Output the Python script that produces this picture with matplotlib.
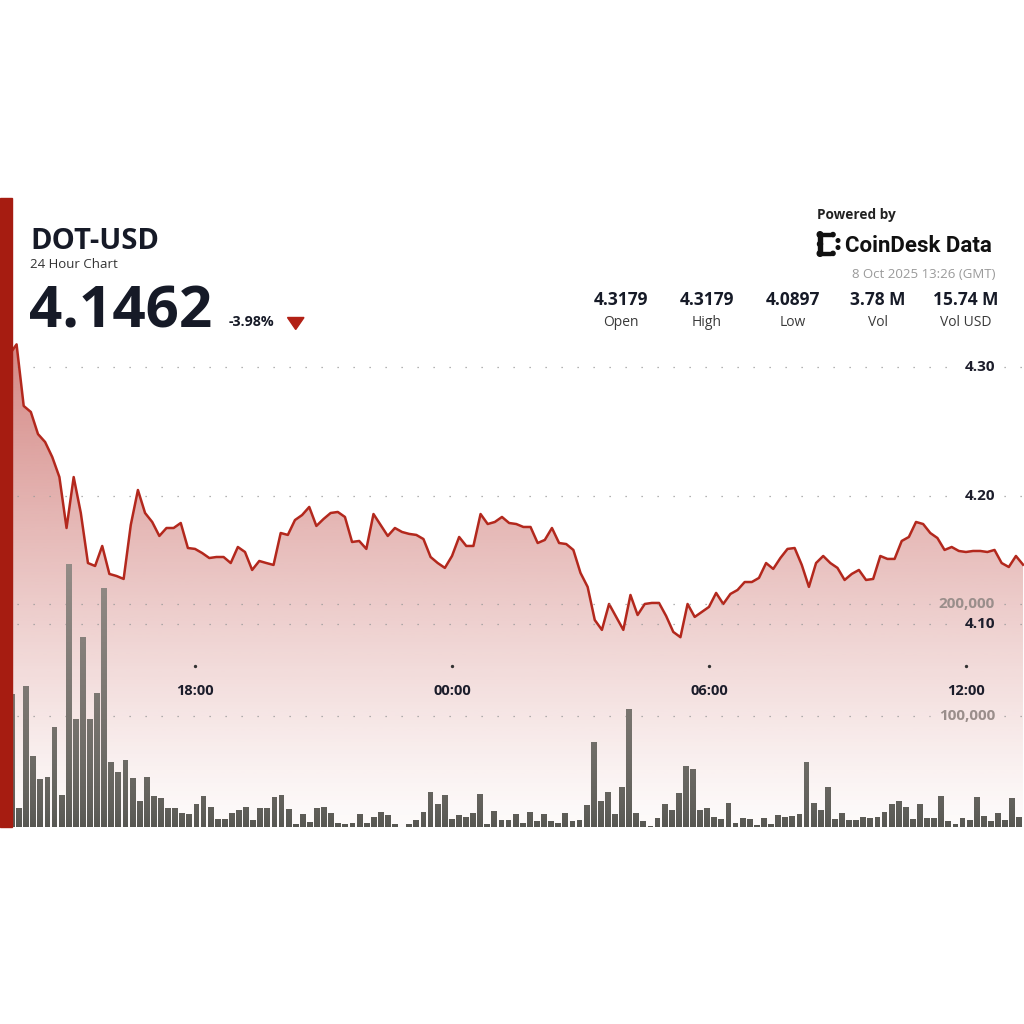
import numpy as np
import pandas as pd
import matplotlib
matplotlib.use('Agg')
import matplotlib.pyplot as plt
from matplotlib.path import Path
from matplotlib.patches import Rectangle, Polygon, Circle
from matplotlib.transforms import blended_transform_factory

plt.rcParams['font.family'] = ['Open Sans', 'Noto Sans', 'DejaVu Sans']

# header data
symbol = 'DOT-USD'
subtitle = '24 Hour Chart'
last_price = '4.1462'
change_pct = '-3.98%'
stamp = '8 Oct 2025 13:26 (GMT)'
stat_values = ['4.3179', '4.3179', '4.0897', '3.78 M', '15.74 M']
stat_names = ['Open', 'High', 'Low', 'Vol', 'Vol USD']

# 10 minute series
times = pd.date_range('2025-10-07 13:40', periods=143, freq='10min')
prices = [
    4.3100,
    4.3179, 4.2699, 4.2652, 4.2480, 4.2418, 4.2301, 4.2145, 4.1748, 4.2145, 4.1865,
    4.1475, 4.1452, 4.1608, 4.1390, 4.1374, 4.1351, 4.1772, 4.2044, 4.1865, 4.1795,
    4.1686, 4.1748, 4.1748, 4.1787, 4.1592, 4.1585, 4.1553, 4.1514, 4.1522, 4.1522,
    4.1475, 4.1600, 4.1561, 4.1421, 4.1491, 4.1475, 4.1460, 4.1709, 4.1694, 4.1810,
    4.1849, 4.1912, 4.1764, 4.1818, 4.1865, 4.1873, 4.1834, 4.1639, 4.1647, 4.1585,
    4.1857, 4.1772, 4.1686, 4.1748, 4.1717, 4.1702, 4.1694, 4.1662, 4.1522, 4.1475,
    4.1437, 4.1530, 4.1678, 4.1608, 4.1608, 4.1857, 4.1779, 4.1795, 4.1834, 4.1787,
    4.1779, 4.1756, 4.1756, 4.1631, 4.1655, 4.1748, 4.1631, 4.1623, 4.1577, 4.1398,
    4.1289, 4.1031, 4.0954, 4.1156, 4.1055, 4.0954, 4.1226, 4.1070, 4.1156, 4.1164,
    4.1164, 4.1062, 4.0938, 4.0897, 4.1156, 4.1055, 4.1094, 4.1133, 4.1242, 4.1156,
    4.1234, 4.1265, 4.1327, 4.1327, 4.1359, 4.1475, 4.1429, 4.1514, 4.1585, 4.1592,
    4.1460, 4.1289, 4.1475, 4.1530, 4.1475, 4.1437, 4.1343, 4.1390, 4.1421, 4.1343,
    4.1351, 4.1530, 4.1507, 4.1507, 4.1647, 4.1678, 4.1795, 4.1779, 4.1709, 4.1670,
    4.1577, 4.1600, 4.1569, 4.1561, 4.1569, 4.1569, 4.1561, 4.1577, 4.1475, 4.1444,
    4.1530, 4.1462,
]
volumes = [
    119500,
    16800, 127000, 63800, 42900, 45200, 90100, 28800, 236000, 97000, 171000,
    97000, 120700, 215000, 58700, 49100, 60200, 44300, 23600, 45200, 28100,
    25800, 16800, 16800, 12300, 11400, 20700, 27900, 17700, 6900, 6900,
    12300, 15300, 17700, 6300, 16800, 16800, 27200, 28800, 15900, 2400,
    11400, 4800, 16800, 17700, 12800, 3900, 2700, 3300, 11400, 3900,
    8700, 13700, 10500, 2400, 300, 2400, 6300, 13700, 31400, 20700,
    28800, 6900, 10800, 9300, 12800, 29600, 2700, 14600, 6300, 6300,
    11400, 3300, 13700, 5700, 11400, 5400, 3900, 12800, 5700, 6300,
    19800, 76100, 23400, 31700, 11700, 36200, 105700, 12300, 5700, 900,
    7800, 20400, 15300, 30800, 54800, 51800, 15300, 16800, 9300, 6900,
    21300, 3900, 8400, 6900, 1800, 8400, 2700, 10800, 9300, 9900,
    11400, 58700, 21300, 15300, 36200, 6900, 12800, 6300, 6300, 9300,
    7800, 9300, 13200, 20400, 23400, 18200, 6900, 20400, 7800, 7800,
    27900, 5700, 2700, 8400, 6300, 26700, 9900, 5700, 12800, 6300,
    25800, 9300,
]

price_ticks = [4.30, 4.20, 4.10]
volume_ticks = [200000, 100000]
time_ticks = pd.to_datetime(['2025-10-07 18:00', '2025-10-08 00:00',
                             '2025-10-08 06:00', '2025-10-08 12:00'])
time_labels = ['18:00', '00:00', '06:00', '12:00']

W = H = 1024
fig = plt.figure(figsize=(10.24, 10.24), dpi=100)
fig.patch.set_facecolor('white')


def fx(px):
    return px / W


def fy(py):
    return 1 - py / H


def ftext(px, py, s, **kw):
    fig.text(fx(px), fy(py), s, **kw)


# plot area (pixels 12..1024 x 340..827)
rect = [fx(12), fy(827), fx(1024) - fx(12), fy(340) - fy(827)]
ax = fig.add_axes(rect)
vax = fig.add_axes(rect)
for a in (ax, vax):
    a.set_axis_off()
vax.patch.set_alpha(0)

x0 = pd.Timestamp('2025-10-07 13:43:36')
x1 = pd.Timestamp('2025-10-08 13:21:18')
ax.set_xlim(x0, x1)
ax.set_ylim(3.9418, 4.3213)

# gradient fill under the price line
fill = ax.fill_between(times, prices, 3.9418, color='none', linewidth=0)
n = 256
grad = np.zeros((n, 1, 4))
grad[:, 0, 0] = 181 / 255
grad[:, 0, 1] = 48 / 255
grad[:, 0, 2] = 42 / 255
grad[:, 0, 3] = np.linspace(0.0, 1.0, n) ** 1.15 * 0.56 + 0.02
xl = ax.get_xlim()
im = ax.imshow(grad, extent=[xl[0], xl[1], 3.9418, 4.3213], origin='lower',
               aspect='auto', zorder=1, interpolation='bilinear')
im.set_clip_path(fill.get_paths()[0], transform=ax.transData)
ax.set_xlim(x0, x1)
ax.set_ylim(3.9418, 4.3213)

# dotted grid lines with a gap for the labels
ytrans = blended_transform_factory(ax.transAxes, ax.transData)
dot = dict(color='#9a9a9a', lw=0.9, linestyle=(0, (1.0, 11.8)), zorder=2)
for p in price_ticks:
    ax.plot([0.005, 0.932], [p, p], transform=ytrans, **dot)
    ax.plot([0.980, 1.0], [p, p], transform=ytrans, **dot)
    ax.text(0.9713, p, f'{p:.2f}', transform=ytrans, ha='right', va='center',
            fontsize=11, fontweight='bold', color='#1c1d2b', zorder=6)

ax.plot(times, prices, color='#b3281d', lw=1.8, zorder=3, solid_joinstyle='round')

# time labels
xtrans = blended_transform_factory(ax.transData, ax.transAxes)
ax.plot(time_ticks, [0.331] * len(time_ticks), 'o', ms=1.4, color='#333333',
        transform=xtrans, zorder=4)
for t, lab in zip(time_ticks, time_labels):
    ax.text(t, 0.279, lab, transform=xtrans, ha='center', va='center',
            fontsize=10.5, fontweight='bold', color='#1c1d2b', zorder=6)

# volume bars with vertical gradient
vtop = 437556
idx = np.arange(len(volumes))
vax.set_xlim(0, 142.66)
vax.set_ylim(0, vtop)
bars = vax.bar(idx, volumes, width=0.82, color='none', linewidth=0)
clip = Path.make_compound_path(*[b.get_path().transformed(b.get_patch_transform())
                                 for b in bars])
dark = np.array([0.34, 0.34, 0.32])
light = np.array([0.58, 0.55, 0.53])
vg = np.zeros((n, 1, 4))
mix = np.linspace(0, 1, n)[:, None] ** 0.7
vg[:, 0, :3] = dark + (light - dark) * mix
vg[:, 0, 3] = 1
vim = vax.imshow(vg, extent=[0, 142.66, 0, 240000], origin='lower', aspect='auto',
                 zorder=3, interpolation='bilinear')
vim.set_clip_path(clip, transform=vax.transData)
vax.set_xlim(0, 142.66)
vax.set_ylim(0, vtop)

vtrans = blended_transform_factory(vax.transAxes, vax.transData)
for v in volume_ticks:
    vax.plot([0.005, 0.907], [v, v], transform=vtrans, **dot)
    vax.plot([0.980, 1.0], [v, v], transform=vtrans, **dot)
    vax.text(0.9713, v, f'{v:,}', transform=vtrans, ha='right', va='center',
             fontsize=11, fontweight='bold', color='#9a8e8b', zorder=6)

# left accent bar
fig.patches.append(Rectangle((0, fy(827)), fx(11.5), fy(197.5) - fy(827),
                             transform=fig.transFigure, color='#a61c11', zorder=10))

# header
ftext(30, 249, symbol, fontsize=21, fontweight='bold', color='#161a27')
ftext(30, 267.5, subtitle, fontsize=9.5, color='#333333')
ftext(29, 327, last_price, fontsize=42, fontweight='bold', color='#161a27')
ftext(229, 326.5, change_pct, fontsize=10.3, fontweight='bold', color='#161a27')
fig.patches.append(Polygon([(fx(287.5), fy(317.5)), (fx(304), fy(317.5)),
                            (fx(295.7), fy(329.5))], closed=True,
                           transform=fig.transFigure, color='#b22015'))

ftext(817, 218.5, 'Powered by', fontsize=9.8, fontweight='bold', color='#222222')
ftext(845, 252.5, 'CoinDesk Data', fontsize=16, fontweight='bold', color='#111111',
      family=['Roboto', 'DejaVu Sans'])
# logo mark
for (x, y, w, h) in [(818, 234, 4, 20), (818, 233, 13, 3.2), (818, 251.8, 13, 3.2)]:
    fig.patches.append(Rectangle((fx(x), fy(y + h)), w / W, h / H,
                                 transform=fig.transFigure, color='#111111'))
for (x, y, r) in [(820, 234.5, 2.8), (820, 253.5, 2.8), (833, 234.6, 2.1),
                  (833, 253.4, 2.1), (838, 240.5, 1.8), (838, 247.5, 1.8),
                  (820, 244, 2.5)]:
    fig.patches.append(Circle((fx(x), fy(y)), r / W, transform=fig.transFigure,
                              color='#111111'))
ftext(995, 278, stamp, fontsize=9.5, color='#9a9a9a', ha='right')

stat_x = [620.8, 706.5, 792.5, 877.5, 965.8]
for x, val, name in zip(stat_x, stat_values, stat_names):
    ftext(x, 305, val, fontsize=12.5, fontweight='bold', color='#161a27', ha='center')
    ftext(x, 325.5, name, fontsize=10, color='#3a3a3a', ha='center')

fig.savefig('out.png', dpi=100, facecolor='white')
